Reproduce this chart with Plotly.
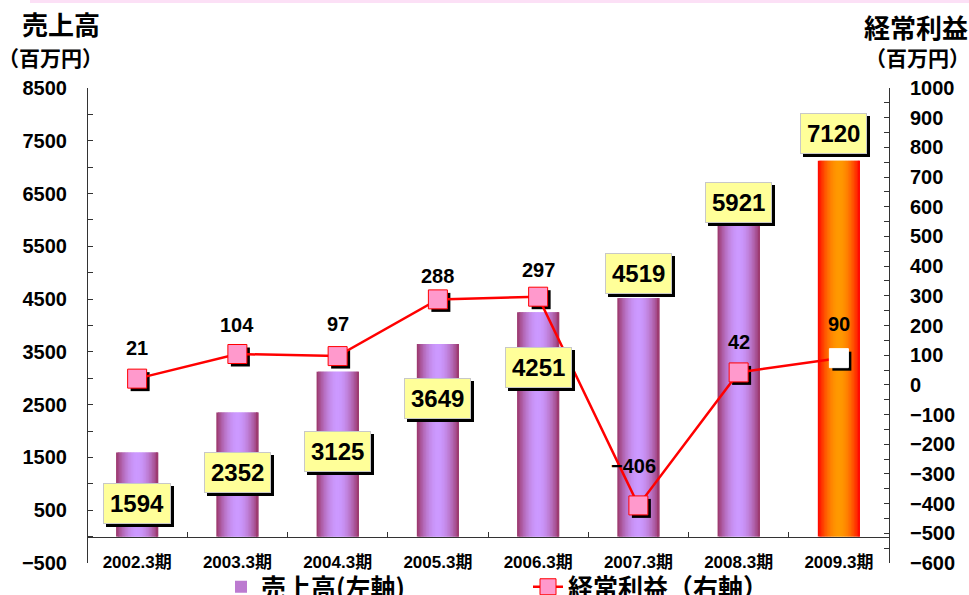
import math
import plotly.graph_objects as go

# ---------------- data ----------------
CATEGORIES = ["2002.3期", "2003.3期", "2004.3期", "2005.3期",
              "2006.3期", "2007.3期", "2008.3期", "2009.3期"]
SALES = [1594, 2352, 3125, 3649, 4251, 4519, 5921, 7120]
PROFIT = [21, 104, 97, 288, 297, -406, 42, 90]
SALES_RANGE = [-500, 8500]
PROFIT_RANGE = [-600, 1000]
SALES_NAME = "売上高(左軸)"
PROFIT_NAME = "経常利益（右軸）"

# ---------------- layout helpers (pixels) ----------------
W, H = 969, 595
PL, PR, PT, PB = 87, 889, 88, 563
PW, PH = PR - PL, PB - PT


def fx(X):
    return (X - PL) / PW


def fy(Y):
    return (PB - Y) / PH


NUM = "Liberation Sans, Arial, Noto Sans CJK JP, sans-serif"
CJK = "Noto Sans CJK JP, Liberation Sans, sans-serif"

# style lists (not data)
HIGHLIGHT = [False] * 7 + [True]
SALES_LABEL_DY = [-51, -60, -80, -54, -55, 25, 22, 27]
SALES_LABEL_DX = [0, 0, 0, 0, 0, 0, 0, -5]
PROFIT_LABEL_DY = [31, 29, 32, 23, 27, 39, 30, 34]
PROFIT_LABEL_DX = [0, 0, 0, 0, 0, -5, 0, 0]

PURPLE_EDGE, PURPLE_MID = (0x99, 0x33, 0x66), (0xCC, 0x99, 0xFF)
RED_EDGE, RED_MID = (0xFF, 0x00, 0x00), (0xFF, 0x99, 0x00)

BAR_W = 0.42
N_STRIPS = 28


def mix(a, b, t):
    return "rgb(%d,%d,%d)" % tuple(round(a[k] + (b[k] - a[k]) * t) for k in range(3))


fig = go.Figure()

# gradient bars made of overlapping vertical strips
step = BAR_W / N_STRIPS
for i in range(N_STRIPS):
    t = (i + 0.5) / N_STRIPS
    m = math.sin(math.pi * t) ** 0.9
    colors = [mix(RED_EDGE, RED_MID, m) if h else mix(PURPLE_EDGE, PURPLE_MID, m)
              for h in HIGHLIGHT]
    fig.add_trace(go.Bar(
        x=CATEGORIES, y=SALES,
        width=step * (2 if i < N_STRIPS - 1 else 1),
        offset=-BAR_W / 2 + i * step,
        marker=dict(color=colors, line=dict(width=0)),
        xaxis="x", yaxis="y",
        showlegend=(i == 6), name=SALES_NAME,
        hoverinfo="skip",
    ))

# shadow of profit markers (drawn on shifted hidden axes)
fig.add_trace(go.Scatter(
    x=CATEGORIES, y=PROFIT, xaxis="x2", yaxis="y3",
    mode="markers",
    marker=dict(symbol="square", size=19, color="black", line=dict(width=0)),
    showlegend=False, hoverinfo="skip",
))

# profit line
mcolors = ["#FF99CC"] * (len(PROFIT) - 1) + ["#FFFFFF"]
mline = ["#FF0000"] * (len(PROFIT) - 1) + ["#FFFFFF"]
fig.add_trace(go.Scatter(
    x=CATEGORIES, y=PROFIT, xaxis="x3", yaxis="y4",
    mode="lines+markers", name=PROFIT_NAME,
    line=dict(color="#FF0000", width=2.5),
    marker=dict(symbol="square", size=19, color=mcolors,
                line=dict(color=mline, width=1)),
    hoverinfo="skip",
))

annotations = []
# sales labels: shadows then yellow boxes
for c, v, dy, dx in zip(CATEGORIES, SALES, SALES_LABEL_DY, SALES_LABEL_DX):
    for shadow in (True, False):
        annotations.append(dict(
            x=c, y=v, xref="x", yref="y", text=str(v), showarrow=False,
            xanchor="center", yanchor="middle",
            xshift=dx + (3 if shadow else 0), yshift=dy - (3 if shadow else 0),
            font=dict(family=NUM, size=24, color="black", weight="bold"),
            bgcolor="black" if shadow else "#FFFF99",
            bordercolor="black" if shadow else "#C8C8C8",
            borderwidth=1, borderpad=6,
        ))
# profit labels
for c, v, dy, dx in zip(CATEGORIES, PROFIT, PROFIT_LABEL_DY, PROFIT_LABEL_DX):
    annotations.append(dict(
        x=c, y=v, xref="x", yref="y2",
        text=(("−%d" % -v) if v < 0 else str(v)), showarrow=False,
        xanchor="center", yanchor="middle", xshift=dx, yshift=dy,
        font=dict(family=NUM, size=20, color="black", weight="bold"),
    ))
# axis titles
for txt, X, Y, size in [("売上高", 61, 24, 26), ("（百万円）", 50, 57, 21),
                        ("経常利益", 916, 26, 26), ("（百万円）", 917, 57, 21)]:
    annotations.append(dict(
        x=fx(X), y=fy(Y), xref="paper", yref="paper", text=txt, showarrow=False,
        xanchor="center", yanchor="middle",
        font=dict(family=CJK, size=size, color="black", weight="bold"),
    ))

cat_range = [-0.5, len(CATEGORIES) - 0.5]
dx_cat = 3 / (PW / len(CATEGORIES))
dy_profit = 3 / (PH / (PROFIT_RANGE[1] - PROFIT_RANGE[0]))
zero_frac = (0 - SALES_RANGE[0]) / (SALES_RANGE[1] - SALES_RANGE[0])

tick_font = dict(family=NUM, size=20, color="black", weight="bold")
axis_col = "#333333"

fig.update_layout(
    width=W, height=H,
    margin=dict(l=PL, r=W - PR, t=PT, b=H - PB, autoexpand=False),
    paper_bgcolor="white", plot_bgcolor="white",
    barmode="overlay",
    showlegend=True,
    legend=dict(orientation="h", x=fx(221), xanchor="left",
                y=fy(587), yanchor="middle",
                font=dict(family=CJK, size=25, color="black", weight="bold"),
                entrywidth=262, entrywidthmode="pixels",
                bgcolor="rgba(0,0,0,0)", traceorder="normal"),
    xaxis=dict(type="category", categoryarray=CATEGORIES, range=cat_range,
               anchor="free", position=zero_frac,
               showline=True, linecolor=axis_col, linewidth=1,
               ticks="inside", tickson="boundaries", ticklen=5, tickcolor=axis_col,
               tickfont=dict(family=NUM, size=17, color="black", weight="bold"),
               ticklabelstandoff=10, showgrid=False, zeroline=False, fixedrange=True),
    xaxis2=dict(type="category", categoryarray=CATEGORIES,
                range=[cat_range[0] - dx_cat, cat_range[1] - dx_cat],
                overlaying="x", visible=False, anchor="y3"),
    xaxis3=dict(type="category", categoryarray=CATEGORIES, range=cat_range,
                overlaying="x", visible=False, anchor="y4"),
    yaxis=dict(range=SALES_RANGE, tick0=SALES_RANGE[0], dtick=1000,
               showline=True, linecolor=axis_col, linewidth=1,
               ticks="inside", ticklen=5, tickcolor=axis_col,
               minor=dict(dtick=500, tick0=SALES_RANGE[0], ticks="inside", ticklen=5, tickcolor=axis_col),
               tickfont=tick_font, ticklabelstandoff=16,
               showgrid=False, zeroline=False, anchor="free", position=0),
    yaxis2=dict(range=PROFIT_RANGE, tick0=PROFIT_RANGE[0], dtick=100,
                overlaying="y", side="right", anchor="free", position=1,
                showline=True, linecolor=axis_col, linewidth=1,
                ticks="inside", ticklen=5, tickcolor=axis_col,
                minor=dict(dtick=50, tick0=PROFIT_RANGE[0], ticks="inside", ticklen=5, tickcolor=axis_col),
                tickfont=tick_font, ticklabelstandoff=16,
                showgrid=False, zeroline=False),
    yaxis3=dict(range=[PROFIT_RANGE[0] + dy_profit, PROFIT_RANGE[1] + dy_profit],
                overlaying="y", visible=False, anchor="x2"),
    yaxis4=dict(range=PROFIT_RANGE, overlaying="y", visible=False, anchor="x3"),
    annotations=annotations,
    shapes=[dict(type="rect", xref="paper", yref="paper",
                 x0=fx(30), x1=fx(969), y0=fy(3), y1=fy(0),
                 fillcolor="#FCE0F6", line=dict(width=0), layer="below")],
)

fig.write_html(
    "out.html",
    config={"displayModeBar": False},
    post_script="document.body.style.margin='0px';document.body.style.overflow='hidden';",
)
